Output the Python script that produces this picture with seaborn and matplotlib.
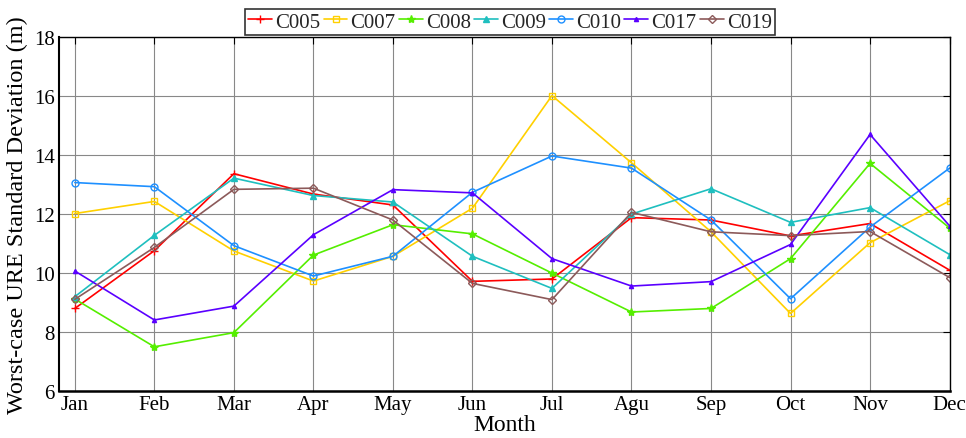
import numpy as np
import pandas as pd
import matplotlib
matplotlib.use("Agg")
import matplotlib.pyplot as plt
import seaborn as sns

months = ["Jan", "Feb", "Mar", "Apr", "May", "Jun", "Jul", "Agu", "Sep", "Oct", "Nov", "Dec"]
C005 = [8.80, 10.76, 13.37, 12.68, 12.31, 9.72, 9.80, 11.88, 11.80, 11.26, 11.68, 10.10]
C007 = [12.02, 12.43, 10.75, 9.73, 10.57, 12.20, 16.02, 13.74, 11.40, 8.63, 11.03, 12.45]
C008 = [9.12, 7.50, 7.98, 10.61, 11.64, 11.33, 10.00, 8.68, 8.80, 10.49, 13.72, 11.53]
C009 = [9.20, 11.28, 13.22, 12.63, 12.41, 10.57, 9.48, 12.00, 12.86, 11.72, 12.22, 10.63]
C010 = [13.07, 12.93, 10.93, 9.90, 10.57, 12.74, 13.97, 13.56, 11.80, 9.13, 11.56, 13.56]
C017 = [10.07, 8.41, 8.88, 11.30, 12.83, 12.72, 10.49, 9.56, 9.71, 10.97, 14.70, 11.60]
C019 = [9.11, 10.87, 12.84, 12.88, 11.80, 9.65, 9.10, 12.06, 11.40, 11.27, 11.41, 9.85]

series = {"C005": C005, "C007": C007, "C008": C008, "C009": C009,
          "C010": C010, "C017": C017, "C019": C019}
colors = {"C005": "#ff0000", "C007": "#ffd000", "C008": "#55ee00", "C009": "#1fbfbf",
          "C010": "#1e90ff", "C017": "#5a00ff", "C019": "#8c5a5a"}
markers = {"C005": "+", "C007": "s", "C008": "*", "C009": "^",
           "C010": "o", "C017": "^", "C019": "D"}
msizes = {"C005": 6, "C007": 5, "C008": 6, "C009": 5, "C010": 5, "C017": 3, "C019": 4}
mfill = {"C005": True, "C007": False, "C008": True, "C009": True,
         "C010": False, "C017": True, "C019": False}

sns.set_theme(style="white")
plt.rcParams["font.family"] = ["Liberation Serif", "DejaVu Serif"]

fig = plt.figure(figsize=(9.66, 4.39), dpi=100)
ax = fig.add_axes([0.061, 0.107, 0.922, 0.806])

x = np.arange(len(months))
for name, vals in series.items():
    df = pd.DataFrame({"x": x, "y": vals})
    c = colors[name]
    sns.lineplot(data=df, x="x", y="y", ax=ax, color=c, linewidth=1.2,
                 marker=markers[name], markersize=msizes[name],
                 markerfacecolor=(c if mfill[name] else "none"),
                 markeredgecolor=c, markeredgewidth=1.0, label=name)

ax.set_xlim(-0.2, 11)
ax.set_ylim(6, 18)
ax.set_xticks(x)
ax.set_xticklabels(months)
ax.set_yticks([6, 8, 10, 12, 14, 16, 18])
ax.tick_params(axis="both", direction="in", labelsize=15, top=True, right=True,
               length=5, width=0.8, colors="black", pad=3)
for lab in ax.get_xticklabels() + ax.get_yticklabels():
    lab.set_color("black")
ax.grid(True, color="#888888", linewidth=0.8, linestyle="-")
for s in ax.spines.values():
    s.set_color("black")
    s.set_linewidth(1.0)
ax.spines["bottom"].set_linewidth(1.8)
ax.spines["left"].set_linewidth(1.5)
ax.set_xlabel("Month", fontsize=17, labelpad=0, color="black")
ax.set_ylabel("Worst-case URE Standard Deviation (m)", fontsize=17.5, labelpad=4, color="black")

ax.get_legend().remove()
handles, labels = ax.get_legend_handles_labels()
leg = fig.legend(handles, labels, loc="upper center", bbox_to_anchor=(0.528, 0.982),
                 ncol=7, fontsize=15, frameon=True, fancybox=False, edgecolor="black",
                 handlelength=1.15, handletextpad=0.15, columnspacing=0.15,
                 borderpad=0.15, borderaxespad=0.1)
leg.get_frame().set_linewidth(1.2)
leg.set_zorder(10)

fig.savefig("out.png", dpi=100, facecolor="white")
